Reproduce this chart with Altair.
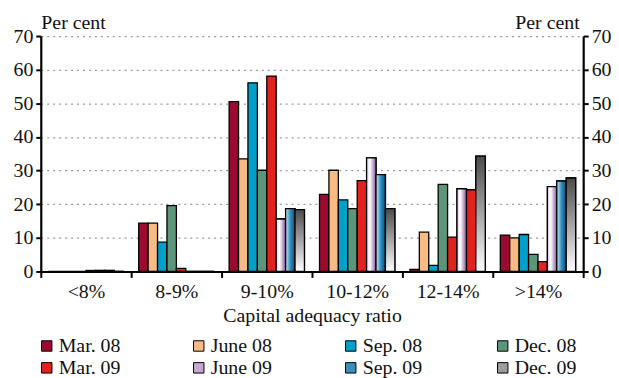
import altair as alt
import pandas as pd

categories = ["<8%", "8-9%", "9-10%", "10-12%", "12-14%", ">14%"]
series = ["Mar. 08", "June 08", "Sep. 08", "Dec. 08", "Mar. 09", "June 09", "Sep. 09", "Dec. 09"]
mar08 = [0.0, 14.4, 50.5, 22.9, 0.6, 10.8]
jun08 = [0.0, 14.4, 33.5, 30.1, 11.7, 10.0]
sep08 = [0.0, 8.7, 56.1, 21.3, 1.8, 11.0]
dec08 = [0.0, 19.6, 30.1, 18.7, 25.9, 5.1]
mar09 = [0.3, 0.9, 58.1, 27.0, 10.2, 2.9]
jun09 = [0.3, 0.0, 15.6, 33.8, 24.6, 25.2]
sep09 = [0.3, 0.0, 18.7, 28.8, 24.3, 26.9]
dec09 = [0.0, 0.0, 18.4, 18.7, 34.3, 27.8]
colors = ["#9A0B2F", "#F8BB84", "#00A0C8", "#5B957A", "#E3221F", "#C7A6D4", "#3D8DBB", "#9C9C9C"]

values = [mar08, jun08, sep08, dec08, mar09, jun09, sep09, dec09]
rows = []
for s, vals in zip(series, values):
    for c, v in zip(categories, vals):
        rows.append({"category": c, "series": s, "value": v})
df = pd.DataFrame(rows)

FONT = "Liberation Serif"
FS = 20

x_axis = alt.Axis(title="Capital adequacy ratio", labelAngle=0, tickBand="extent",
                  labelPadding=4, titlePadding=4, tickSize=6)
x_enc = alt.X("category:N", sort=categories,
              scale=alt.Scale(paddingInner=0, paddingOuter=0), axis=x_axis)
xo = alt.XOffset("series:N", sort=series,
                 scale=alt.Scale(domain=series, paddingInner=0, paddingOuter=0.8))
yscale = alt.Scale(domain=[0, 70])
ticks = [0, 10, 20, 30, 40, 50, 60, 70]

odd = (alt.datum.category == "12-14%") & (alt.datum.series == "Sep. 09")

base = alt.Chart(df).mark_bar(stroke="black", strokeWidth=1.3).encode(
    x=x_enc,
    xOffset=xo,
    y=alt.Y("value:Q", scale=yscale,
            axis=alt.Axis(values=ticks, grid=True, gridDash=[2, 4], gridColor="#9a9a9a",
                          gridWidth=1.2, title="Per cent", titleAngle=0, titleAlign="left",
                          titleX=0, titleY=-8, titleBaseline="alphabetic", orient="left",
                          labelPadding=3, tickSize=5)),
    color=alt.condition(odd, alt.value("#E3221F"),
                        alt.Color("series:N", sort=series,
                                  scale=alt.Scale(domain=series, range=colors),
                                  legend=alt.Legend(title=None, orient="none", legendX=-4, legendY=302,
                                                    direction="horizontal",
                                                    columns=4, symbolType="square", symbolSize=110,
                                                    symbolStrokeColor="black", symbolStrokeWidth=1,
                                                    labelFontSize=FS, labelFont=FONT, labelColor="#111",
                                                    columnPadding=68, rowPadding=2, gridAlign="all",
                                                    labelOffset=2))),
)


def grad_layer(name, grad, axis):
    return alt.Chart(df).transform_filter(
        (alt.datum.series == name) & ~odd
    ).mark_bar(stroke="black", strokeWidth=1.3, color=grad).encode(
        x=x_enc, xOffset=xo, y=alt.Y("value:Q", scale=yscale, axis=axis)
    )


g_jun09 = alt.LinearGradient(gradient="linear", x1=0, x2=1, y1=0, y2=0, stops=[
    alt.GradientStop(color="#E2D0EA", offset=0), alt.GradientStop(color="#FFFFFF", offset=0.35),
    alt.GradientStop(color="#8A569F", offset=1)])
g_sep09 = alt.LinearGradient(gradient="linear", x1=0, x2=1, y1=0, y2=0, stops=[
    alt.GradientStop(color="#CBE8F4", offset=0), alt.GradientStop(color="#2F8FC0", offset=0.5),
    alt.GradientStop(color="#0D4A74", offset=1)])
g_dec09 = alt.LinearGradient(gradient="linear", x1=0, x2=0, y1=0, y2=1, stops=[
    alt.GradientStop(color="#4A4A4A", offset=0), alt.GradientStop(color="#FFFFFF", offset=1)])

right_axis = alt.Axis(values=ticks, grid=False, title="Per cent", titleAngle=0, titleAlign="right",
                      titleX=-4, titleY=-8, titleBaseline="alphabetic", orient="right",
                      labelPadding=3, tickSize=5)

chart = alt.layer(
    base,
    grad_layer("June 09", g_jun09, right_axis),
    grad_layer("Sep. 09", g_sep09, None),
    grad_layer("Dec. 09", g_dec09, None),
).resolve_axis(y="independent").properties(
    width=546, height=237,
    padding={"left": 5, "top": 3, "right": 0, "bottom": 0},
).configure_view(stroke=None).configure_axis(
    domainColor="black", domainWidth=2.2, tickColor="black", tickWidth=2,
    labelFont=FONT, labelFontSize=FS, labelColor="#111",
    titleFont=FONT, titleFontSize=FS, titleFontWeight="normal", titleColor="#111",
)

chart.save("out.html", embed_options={"renderer": "svg", "actions": False})
